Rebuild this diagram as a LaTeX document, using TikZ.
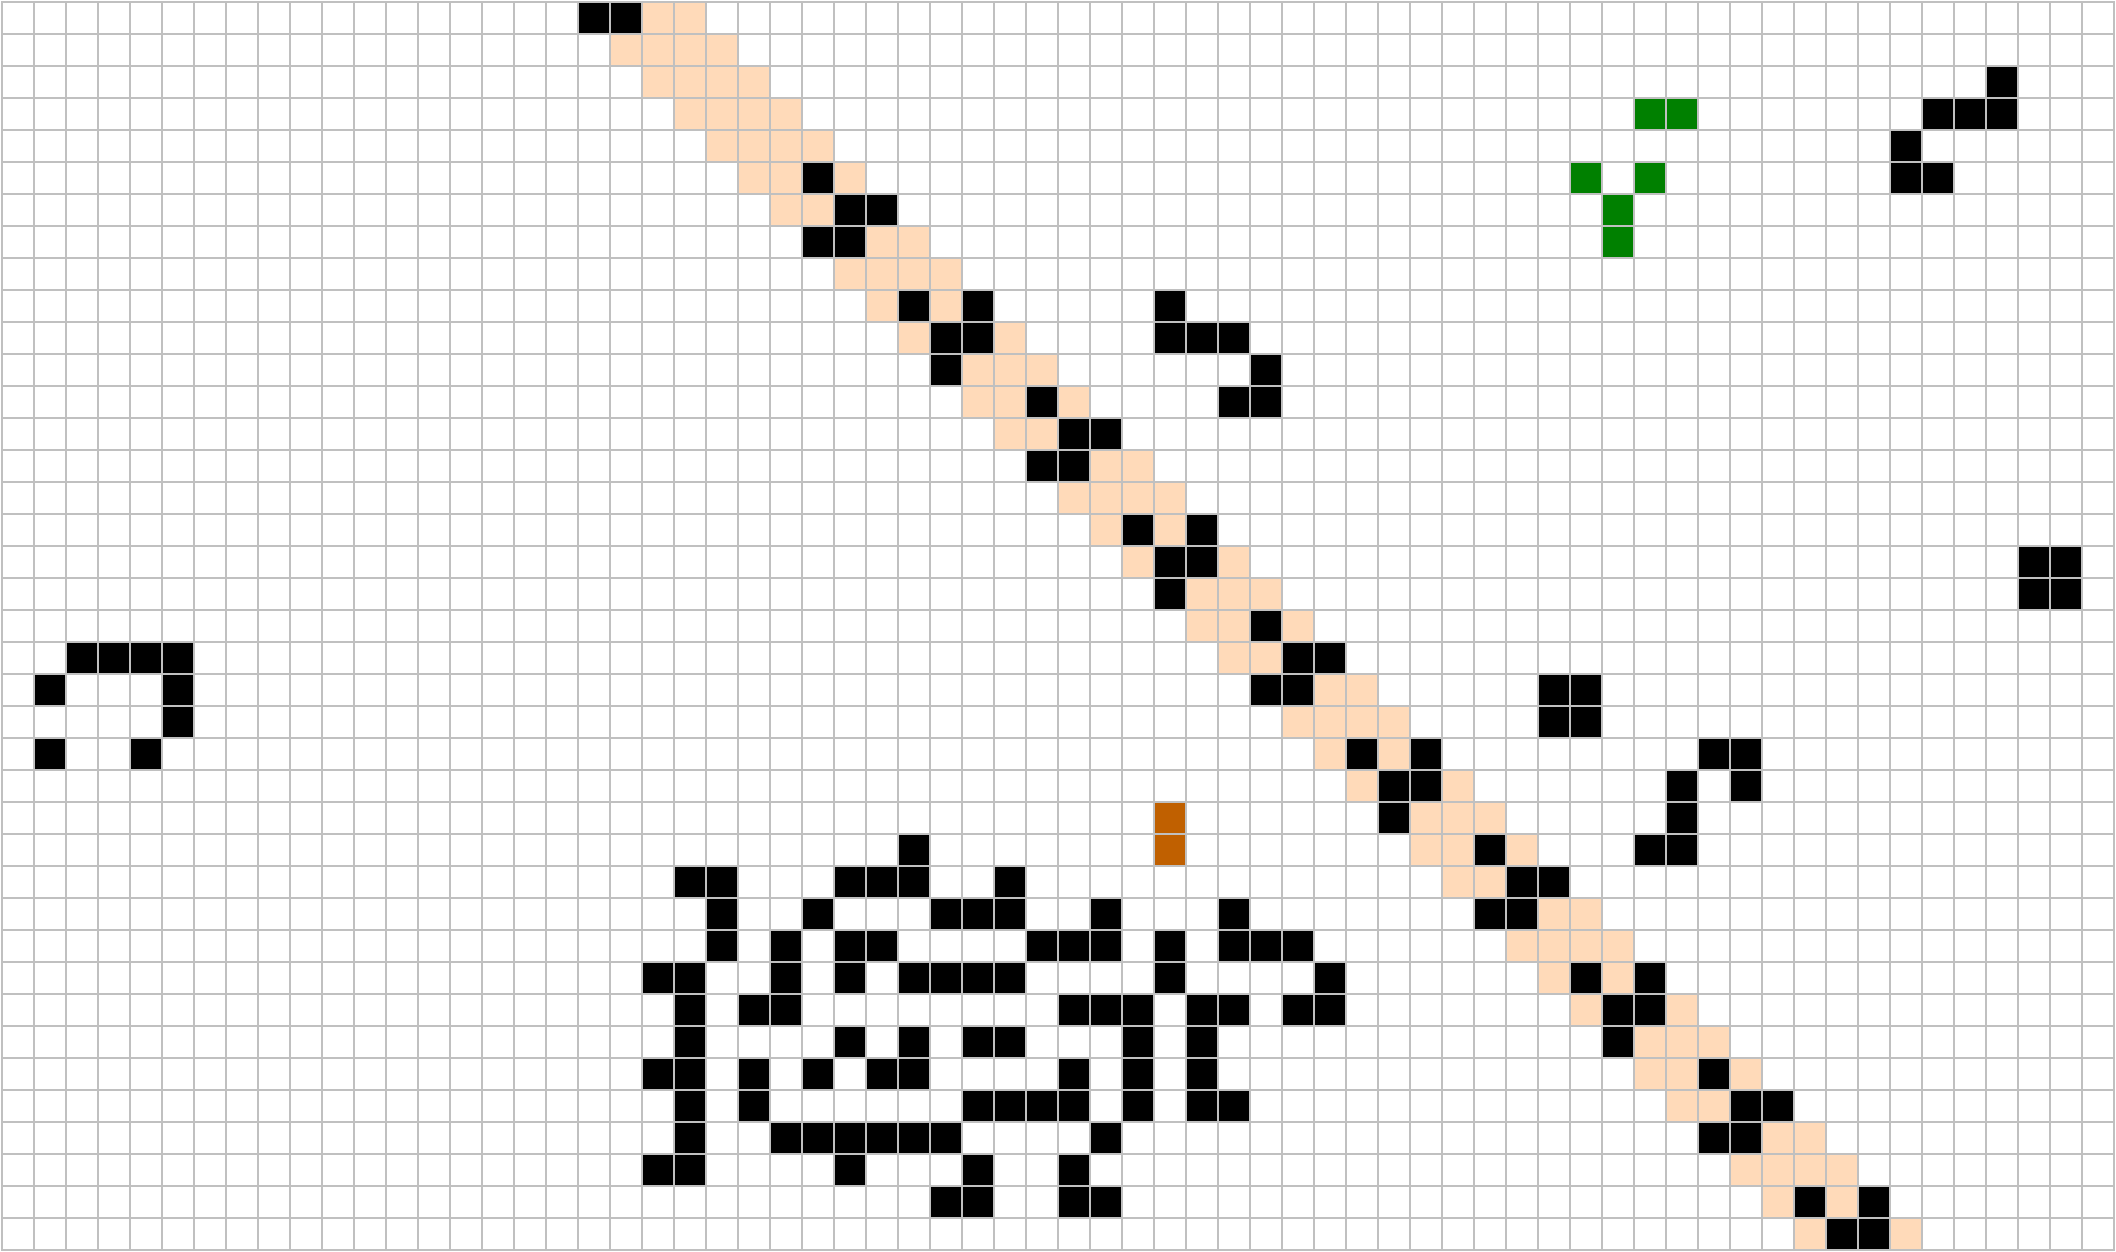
\documentclass[tikz,border=0pt]{standalone}
\definecolor{peach}{HTML}{FFDAB9}
\definecolor{rust}{HTML}{C06000}
\definecolor{lifegreen}{HTML}{008000}
\definecolor{gridgray}{HTML}{C0C0C0}
\tikzset{
  livecell/.style={fill=black},
  trailcell/.style={fill=peach},
  greencell/.style={fill=lifegreen},
  rustcell/.style={fill=rust},
  gridline/.style={draw=gridgray,line width=0.0833cm,line cap=rect},
}
\newcommand\fillcells[2]{\foreach \cx/\cy in {#2} {\fill[#1] (\cx,\cy) rectangle ++(1,1);}}
\begin{document}
\begin{tikzpicture}[x=1cm,y=-1cm]
\useasboundingbox[fill=white] (-0.0625,-0.0625) rectangle (66.0625,39.0625);
% glider trail band
\foreach \r in {0,...,38} {
  \foreach \k in {18,...,21} {
    \fill[trailcell] ({\r+\k},\r) rectangle ++(1,1);
  }
}
% gliders along the band
\fillcells{livecell}{18/0,19/0,
  25/5,26/6,27/6,25/7,26/7,
  32/12,33/13,34/13,32/14,33/14,
  39/19,40/20,41/20,39/21,40/21,
  46/26,47/27,48/27,46/28,47/28,
  53/33,54/34,55/34,53/35,54/35,
  28/9,30/9,29/10,30/10,29/11,
  35/16,37/16,36/17,37/17,36/18,
  42/23,44/23,43/24,44/24,43/25,
  49/30,51/30,50/31,51/31,50/32,
  56/37,58/37,57/38,58/38}
% green glider
\fillcells{greencell}{51/3,52/3,49/5,51/5,50/6,50/7}
% top right shape
\fillcells{livecell}{62/2,60/3,61/3,62/3,59/4,59/5,60/5}
% shape near band
\fillcells{livecell}{36/9,36/10,37/10,38/10,39/11,38/12,39/12}
% blocks
\fillcells{livecell}{63/17,64/17,63/18,64/18}
\fillcells{livecell}{48/21,49/21,48/22,49/22}
% spaceship left
\fillcells{livecell}{2/20,3/20,4/20,5/20,1/21,5/21,5/22,1/23,4/23}
% shape right
\fillcells{livecell}{53/23,54/23,52/24,54/24,52/25,51/26,52/26}
% orange pair
\fillcells{rustcell}{36/25,36/26}
% bottom blob
\fillcells{livecell}{28/26,
  21/27,22/27,26/27,27/27,28/27,31/27,
  22/28,25/28,29/28,30/28,31/28,34/28,38/28,
  22/29,24/29,26/29,27/29,32/29,33/29,34/29,36/29,38/29,39/29,40/29,
  20/30,21/30,24/30,26/30,28/30,29/30,30/30,31/30,36/30,41/30,
  21/31,23/31,24/31,33/31,34/31,35/31,37/31,38/31,40/31,41/31,
  21/32,26/32,28/32,30/32,31/32,35/32,37/32,
  20/33,21/33,23/33,25/33,27/33,28/33,33/33,35/33,37/33,
  21/34,23/34,30/34,31/34,32/34,33/34,35/34,37/34,38/34,
  21/35,24/35,25/35,26/35,27/35,28/35,29/35,34/35,
  20/36,21/36,26/36,30/36,33/36,
  29/37,30/37,33/37,34/37}
% grid
\foreach \i in {0,...,66} {\draw[gridline] (\i,0) -- (\i,39);}
\foreach \j in {0,...,39} {\draw[gridline] (0,\j) -- (66,\j);}
\end{tikzpicture}
\end{document}
